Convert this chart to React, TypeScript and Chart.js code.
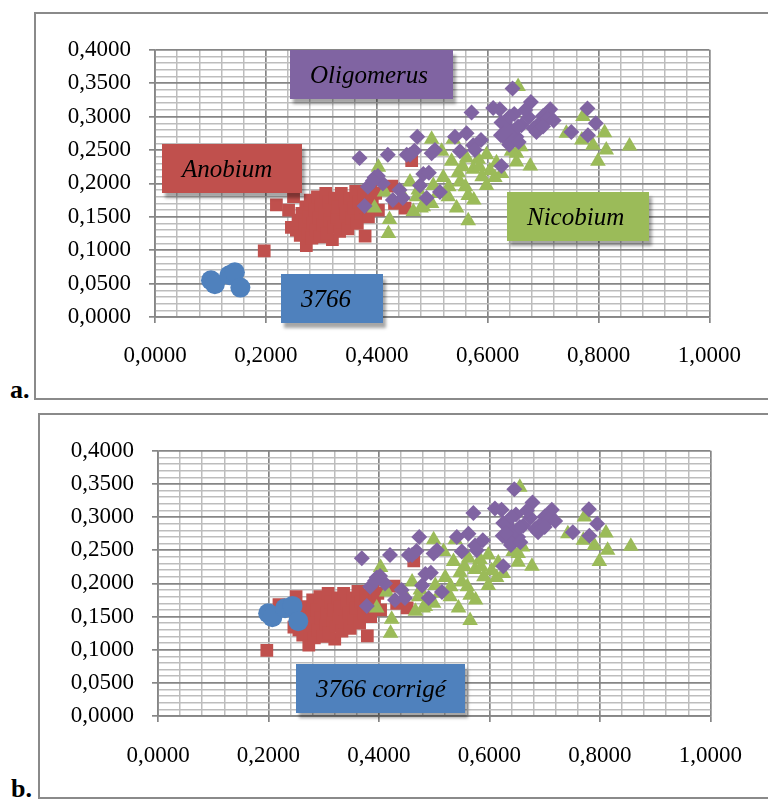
import React, { useEffect, useRef } from "react";
import { Chart, registerables } from "chart.js";

Chart.register(...registerables);

// ---------- DATA ----------
const xTickLabels = ["0,0000", "0,2000", "0,4000", "0,6000", "0,8000", "1,0000"];
const yTickLabels = ["0,0000", "0,0500", "0,1000", "0,1500", "0,2000", "0,2500", "0,3000", "0,3500", "0,4000"];

const sample3766: [number, number][] = [
  [0.101, 0.055], [0.108, 0.049], [0.134, 0.0625], [0.144, 0.067], [0.154, 0.044],
];

const sample3766Corrige: [number, number][] = [
  [0.1995, 0.155], [0.207, 0.149], [0.230, 0.1625], [0.2435, 0.166], [0.254, 0.143],
];

const anobium: [number, number][] = [
  [0.197, 0.099], [0.219, 0.168], [0.241, 0.160], [0.250, 0.180], [0.246, 0.134],
  [0.273, 0.107], [0.320, 0.116], [0.379, 0.121], [0.451, 0.163], [0.463, 0.234],
  [0.427, 0.196], [0.432, 0.170], [0.403, 0.160], [0.389, 0.190],
  [0.255, 0.130], [0.258, 0.145], [0.262, 0.122], [0.265, 0.155], [0.270, 0.138],
  [0.272, 0.165], [0.275, 0.125], [0.278, 0.150], [0.280, 0.175], [0.283, 0.118],
  [0.285, 0.140], [0.288, 0.160], [0.290, 0.130], [0.293, 0.180], [0.295, 0.148],
  [0.298, 0.120], [0.300, 0.168], [0.303, 0.138], [0.306, 0.155], [0.308, 0.185],
  [0.310, 0.125], [0.313, 0.172], [0.316, 0.145], [0.318, 0.160], [0.322, 0.135],
  [0.325, 0.178], [0.328, 0.150], [0.330, 0.165], [0.333, 0.128], [0.336, 0.185],
  [0.338, 0.142], [0.342, 0.170], [0.345, 0.155], [0.348, 0.132], [0.352, 0.178],
  [0.355, 0.148], [0.358, 0.163], [0.362, 0.188], [0.365, 0.140], [0.368, 0.172],
  [0.372, 0.155], [0.376, 0.182], [0.380, 0.165], [0.385, 0.150], [0.392, 0.175],
  [0.398, 0.185],
];

const nicobium: [number, number][] = [
  [0.655, 0.345], [0.742, 0.275], [0.772, 0.300], [0.770, 0.265], [0.811, 0.276],
  [0.790, 0.257], [0.814, 0.250], [0.799, 0.233], [0.856, 0.256], [0.677, 0.226],
  [0.652, 0.245], [0.652, 0.232], [0.643, 0.248], [0.616, 0.231], [0.613, 0.209],
  [0.604, 0.219], [0.598, 0.243], [0.598, 0.197], [0.583, 0.236], [0.574, 0.221],
  [0.562, 0.238], [0.565, 0.182], [0.565, 0.144], [0.550, 0.202], [0.547, 0.216],
  [0.544, 0.163], [0.535, 0.233], [0.529, 0.180], [0.520, 0.209], [0.517, 0.248],
  [0.538, 0.266], [0.499, 0.266], [0.502, 0.197], [0.499, 0.170], [0.484, 0.165],
  [0.475, 0.190], [0.466, 0.158], [0.460, 0.202], [0.447, 0.182], [0.423, 0.146],
  [0.421, 0.125], [0.414, 0.187], [0.403, 0.224], [0.396, 0.163], [0.480, 0.163],
  [0.472, 0.180], [0.575, 0.175], [0.585, 0.225], [0.625, 0.215], [0.590, 0.210],
  [0.555, 0.225], [0.530, 0.195], [0.510, 0.185], [0.660, 0.255], [0.560, 0.195],
];

const oligomerus: [number, number][] = [
  [0.369, 0.238], [0.420, 0.243], [0.454, 0.243], [0.468, 0.249], [0.473, 0.270],
  [0.460, 0.243], [0.499, 0.245], [0.505, 0.250], [0.541, 0.270], [0.562, 0.275],
  [0.550, 0.248], [0.574, 0.257], [0.588, 0.265], [0.577, 0.250], [0.571, 0.306],
  [0.645, 0.342], [0.610, 0.313], [0.622, 0.311], [0.678, 0.322], [0.713, 0.311],
  [0.700, 0.301], [0.624, 0.272], [0.625, 0.226], [0.751, 0.277], [0.780, 0.312],
  [0.795, 0.290], [0.781, 0.272], [0.484, 0.214], [0.494, 0.216], [0.514, 0.187],
  [0.478, 0.197], [0.490, 0.178], [0.441, 0.190], [0.429, 0.175], [0.447, 0.178],
  [0.378, 0.166], [0.396, 0.209], [0.384, 0.195], [0.411, 0.200], [0.402, 0.211],
  [0.393, 0.204], [0.625, 0.291], [0.639, 0.258], [0.652, 0.270], [0.661, 0.287],
  [0.631, 0.291], [0.648, 0.304], [0.674, 0.299], [0.692, 0.289], [0.683, 0.282],
  [0.643, 0.279], [0.708, 0.296], [0.688, 0.277], [0.719, 0.294], [0.635, 0.265],
  [0.655, 0.285], [0.668, 0.310], [0.640, 0.300], [0.630, 0.275], [0.700, 0.285],
  [0.656, 0.262],
];

// ---------- STYLE ----------
const BLUE = "#4F81BD";
const RED = "#C0504D";
const GREEN = "#9BBB59";
const PURPLE = "#8064A2";
const MAJOR = "#868686";
const MINOR = "#bdbdbd";
const SERIF = "'Liberation Serif', 'Times New Roman', serif";

const isMult = (v: number, step: number) => Math.abs(v / step - Math.round(v / step)) < 1e-6;
const toPts = (arr: [number, number][]) => arr.map(([x, y]) => ({ x, y }));

type PanelProps = {
  blue: [number, number][];
  left: number; top: number; width: number; height: number;
  yAxisWidth: number; padTop: number; padRight: number; xAxisHeight: number; xPad: number;
};

function ScatterPanel(p: PanelProps) {
  const ref = useRef<HTMLCanvasElement>(null);
  useEffect(() => {
    if (!ref.current) return;
    const gridOpts = (step: number) => ({
      color: (c: any) => (c.tick && isMult(c.tick.value, step) ? MAJOR : MINOR),
      lineWidth: (c: any) => (c.tick && isMult(c.tick.value, step) ? 1.7 : 1.5),
      tickColor: (c: any) => (c.tick && isMult(c.tick.value, step) ? MAJOR : "rgba(0,0,0,0)"),
      tickLength: 6,
      drawTicks: true,
    });
    const chart = new Chart(ref.current, {
      type: "scatter",
      data: {
        datasets: [
          { label: "3766", data: toPts(p.blue), pointStyle: "circle", pointRadius: 10, backgroundColor: BLUE, borderWidth: 0, pointBorderWidth: 0 },
          { label: "Oligomerus", data: toPts(oligomerus), pointStyle: "rectRot", pointRadius: 8, backgroundColor: PURPLE, borderWidth: 0, pointBorderWidth: 0 },
          { label: "Nicobium", data: toPts(nicobium), pointStyle: "triangle", pointRadius: 9, backgroundColor: GREEN, borderWidth: 0, pointBorderWidth: 0 },
          { label: "Anobium", data: toPts(anobium), pointStyle: "rect", pointRadius: 9, backgroundColor: RED, borderWidth: 0, pointBorderWidth: 0 },
        ] as any,
      },
      options: {
        animation: false,
        responsive: true,
        maintainAspectRatio: false,
        events: [],
        layout: { autoPadding: false, padding: { left: 0, top: p.padTop, right: p.padRight, bottom: 0 } },
        plugins: { legend: { display: false }, tooltip: { enabled: false } },
        scales: {
          x: {
            type: "linear",
            min: 0,
            max: 1,
            afterFit: (s: any) => { s.height = p.xAxisHeight; },
            ticks: {
              stepSize: 0.04,
              autoSkip: false,
              maxRotation: 0,
              padding: p.xPad,
              color: "#000",
              font: { family: SERIF, size: 23 },
              callback: (v: any) => (isMult(Number(v), 0.2) ? xTickLabels[Math.round(Number(v) / 0.2)] : ""),
            },
            grid: gridOpts(0.2) as any,
            border: { color: MAJOR, width: 1.7 },
          },
          y: {
            type: "linear",
            min: 0,
            max: 0.4,
            afterFit: (s: any) => { s.width = p.yAxisWidth; },
            ticks: {
              stepSize: 0.01,
              autoSkip: false,
              padding: 18,
              color: "#000",
              font: { family: SERIF, size: 23 },
              callback: (v: any) => (isMult(Number(v), 0.05) ? yTickLabels[Math.round(Number(v) / 0.05)] : ""),
            },
            grid: gridOpts(0.05) as any,
            border: { color: MAJOR, width: 1.7 },
          },
        },
      } as any,
    });
    return () => chart.destroy();
  }, []);
  return (
    <div style={{ position: "absolute", left: p.left, top: p.top, width: p.width, height: p.height }}>
      <canvas ref={ref} />
    </div>
  );
}

function LabelBox(props: { text: string; left: number; top: number; width: number; height: number; color: string }) {
  return (
    <div
      style={{
        position: "absolute",
        left: props.left,
        top: props.top,
        width: props.width,
        height: props.height,
        background: props.color,
        boxShadow: "3px 5px 3px rgba(0,0,0,0.35)",
        display: "flex",
        alignItems: "center",
        paddingLeft: 20,
        boxSizing: "border-box",
        fontFamily: SERIF,
        fontStyle: "italic",
        fontSize: 25,
        color: "#000",
        whiteSpace: "nowrap",
      }}
    >
      {props.text}
    </div>
  );
}

export default function App() {
  return (
    <div style={{ position: "absolute", left: 0, top: 0, width: 768, height: 799, overflow: "hidden", background: "#fff" }}>
      {/* panel a */}
      <div style={{ position: "absolute", left: 34, top: 12, width: 760, height: 388, border: "2px solid #8a8a8a", boxSizing: "border-box" }} />
      <ScatterPanel blue={sample3766} left={40} top={18} width={720} height={375} yAxisWidth={115} padTop={24} padRight={50} xAxisHeight={76} xPad={19} />
      <LabelBox text="Oligomerus" left={290} top={50} width={163} height={49} color={PURPLE} />
      <LabelBox text="Anobium" left={162} top={144} width={140} height={49} color={RED} />
      <LabelBox text="Nicobium" left={507} top={192} width={142} height={49} color={GREEN} />
      <LabelBox text="3766" left={281} top={274} width={102} height={49} color={BLUE} />
      <div style={{ position: "absolute", left: 10, top: 377, fontFamily: SERIF, fontWeight: "bold", fontSize: 26, lineHeight: "26px", color: "#000" }}>a.</div>

      {/* panel b */}
      <div style={{ position: "absolute", left: 38, top: 413, width: 760, height: 386, border: "2px solid #8a8a8a", boxSizing: "border-box" }} />
      <ScatterPanel blue={sample3766Corrige} left={42} top={419} width={720} height={375} yAxisWidth={116} padTop={24} padRight={51} xAxisHeight={78} xPad={20} />
      <LabelBox text="3766 corrigé" left={296} top={664} width={169} height={49} color={BLUE} />
      <div style={{ position: "absolute", left: 11, top: 776, fontFamily: SERIF, fontWeight: "bold", fontSize: 26, lineHeight: "26px", color: "#000" }}>b.</div>
    </div>
  );
}
